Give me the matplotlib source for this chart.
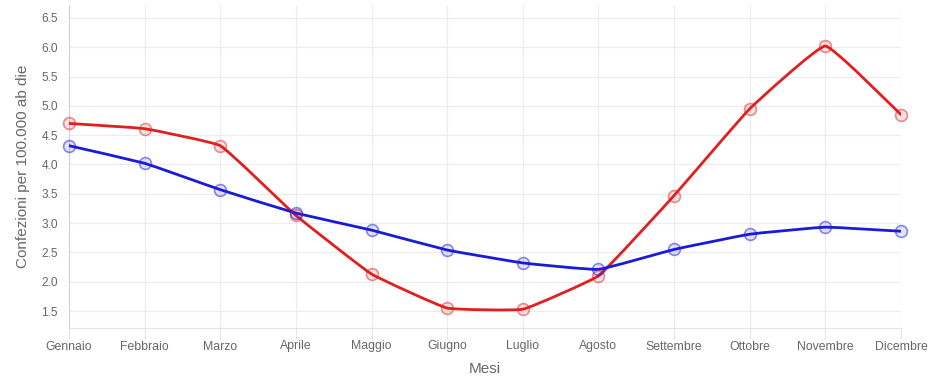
import matplotlib
matplotlib.use("Agg")
import matplotlib.pyplot as plt
from matplotlib.path import Path
from matplotlib.patches import PathPatch
import numpy as np

months = ["Gennaio", "Febbraio", "Marzo", "Aprile", "Maggio", "Giugno",
          "Luglio", "Agosto", "Settembre", "Ottobre", "Novembre", "Dicembre"]
red_values = [4.70, 4.61, 4.32, 3.13, 2.13, 1.55, 1.53, 2.10, 3.47, 4.95, 6.02, 4.85]
blue_values = [4.32, 4.02, 3.57, 3.17, 2.88, 2.54, 2.32, 2.21, 2.55, 2.81, 2.93, 2.86]
y_ticks = [1.5, 2.0, 2.5, 3.0, 3.5, 4.0, 4.5, 5.0, 5.5, 6.0, 6.5]

plt.rcParams['font.family'] = ['Liberation Sans', 'DejaVu Sans']

W, H = 933, 378
fig = plt.figure(figsize=(W / 100, H / 100), dpi=100)
left, right, top, bottom = 69, 901, 5, 328
ax = fig.add_axes([left / W, 1 - bottom / H, (right - left) / W, (bottom - top) / H])

x = np.arange(len(months))


def smooth_path(xs, ys, tension=0.1):
    xs = np.asarray(xs, float)
    ys = np.asarray(ys, float)
    n = len(xs)
    verts = [(xs[0], ys[0])]
    codes = [Path.MOVETO]
    cps = []
    for i in range(n):
        p = (xs[i - 1], ys[i - 1]) if i > 0 else (xs[i], ys[i])
        c = (xs[i], ys[i])
        nx = (xs[i + 1], ys[i + 1]) if i < n - 1 else (xs[i], ys[i])
        d01 = np.hypot(c[0] - p[0], c[1] - p[1])
        d12 = np.hypot(nx[0] - c[0], nx[1] - c[1])
        s = d01 + d12
        fa = tension * d01 / s if s else 0
        fb = tension * d12 / s if s else 0
        prev_cp = (c[0] - fa * (nx[0] - p[0]), c[1] - fa * (nx[1] - p[1]))
        next_cp = (c[0] + fb * (nx[0] - p[0]), c[1] + fb * (nx[1] - p[1]))
        cps.append((prev_cp, next_cp))
    for i in range(1, n):
        verts += [cps[i - 1][1], cps[i][0], (xs[i], ys[i])]
        codes += [Path.CURVE4] * 3
    return Path(verts, codes)


series = [(red_values, (0.88, 0.12, 0.12)), (blue_values, (0.10, 0.10, 0.85))]
for vals, col in series:
    ax.add_patch(PathPatch(smooth_path(x, vals), fill=False, edgecolor=col,
                           lw=2.0, zorder=3, capstyle='round', joinstyle='round'))
for vals, col in series:
    ax.plot(x, vals, linestyle='none', marker='o', markersize=8.5,
            markerfacecolor=(*col, 0.12), markeredgecolor=(*col, 0.5),
            markeredgewidth=1.2, zorder=4, clip_on=False)

ax.set_xlim(0, 11)
ax.set_ylim(1.21, 6.72)
ax.set_xticks(x)
ax.set_xticklabels(months)
ax.set_yticks(y_ticks)
ax.set_yticklabels([f"{v:.1f}" for v in y_ticks])

ax.grid(True, color='#ececec', lw=0.8)
ax.set_axisbelow(True)
for s in ['top', 'right']:
    ax.spines[s].set_visible(False)
ax.spines['left'].set_color('#d0d0d0')
ax.spines['bottom'].set_color('#e4e4e4')
ax.tick_params(axis='x', colors='#666666', labelsize=8.8, length=8, width=0.8,
               color='#e4e4e4', pad=1)
ax.tick_params(axis='y', colors='#666666', labelsize=8.6, length=0, pad=8)
ax.set_xlabel("Mesi", fontsize=11, color='#666666', labelpad=7)
ax.set_ylabel("Confezioni per 100.000 ab die", fontsize=11, color='#666666', labelpad=8)

fig.savefig("out.png", dpi=100)
